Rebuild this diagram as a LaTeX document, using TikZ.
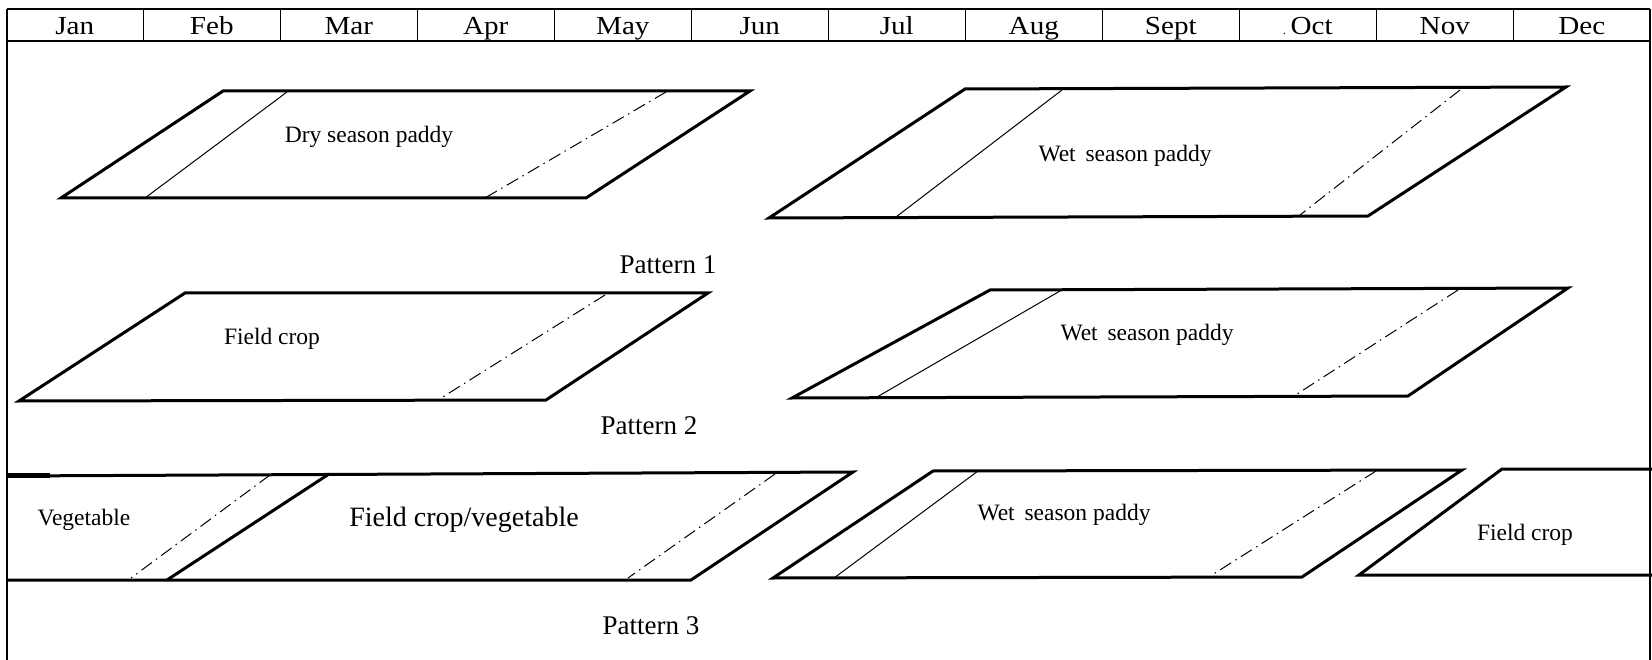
\documentclass[tikz,border=0pt]{standalone}
\usepackage{fontspec}
\setmainfont{Liberation Serif}
\newfontfamily\widefont[FakeStretch=1.12]{Liberation Serif}
\begin{document}
\begin{tikzpicture}[x=1pt,y=-1pt,
  field/.style={line width=3pt, line join=miter},
  divline/.style={line width=1pt},
  thickdiv/.style={line width=3pt},
  ddline/.style={line width=1pt, dash pattern=on 13pt off 5pt on 1.5pt off 5pt},
  frameline/.style={line width=1.3pt},
  month/.style={font=\widefont\fontsize{26}{28}\selectfont, inner sep=0pt, anchor=base},
  crop/.style={font=\fontsize{23.5}{25}\selectfont, inner sep=0pt},
  pattern/.style={font=\fontsize{27}{29}\selectfont, inner sep=0pt}]
\useasboundingbox (0,0) rectangle (1652,660);
% header
\draw[frameline] (7,9) -- (1650,9);
\draw[frameline] (7,41) -- (1650,41);
\draw[frameline] (7,9) -- (7,660);
\draw[frameline] (1650,9) -- (1650,660);
\foreach \k in {1,...,11} {
  \draw[divline] (6.3+137*\k,9) -- (6.3+137*\k,41);
}
\foreach \m [count=\i from 0] in {Jan,Feb,Mar,Apr,May,Jun,Jul,Aug,Sept,{{\fontsize{12}{12}\selectfont.}\,Oct},Nov,Dec} {
  \node[month] (m\i) at (6.3+137*\i+68.5,34.5) {\m};
}
% Row 1 left
\draw[field] (223,91) -- (750,91) -- (586,198) -- (61,198) -- cycle;
\draw[divline] (287,92) -- (145,198);
\draw[ddline] (666,92) -- (485,198);
\node[crop] (dry) at (369,137) {Dry season paddy};
% Row 1 right
\draw[field] (965,89) -- (1566,87) -- (1368,216) -- (769,218) -- cycle;
\draw[divline] (1062,90) -- (896,217);
\draw[ddline] (1460,90) -- (1300,215);
\node[crop] (wet1) at (1125,156) {Wet\, season paddy};
\node[pattern] (p1) at (668,265) {Pattern 1};
% Row 2 left
\draw[field] (185,293) -- (708,293) -- (546,400) -- (19,401) -- cycle;
\draw[ddline] (605,295) -- (438,400);
\node[crop] (fc1) at (272,339) {Field crop};
% Row 2 right
\draw[field] (990,290) -- (1568,288) -- (1408,396) -- (792,398) -- cycle;
\draw[divline] (1060,291) -- (877,397);
\draw[ddline] (1458,290) -- (1294,396);
\node[crop] (wet2) at (1147,335) {Wet\, season paddy};
\node[pattern] (p2) at (649,426) {Pattern 2};
% Row 3 left
\draw[field] (7,476) -- (853,472) -- (691,580) -- (7,580);
\draw[line width=5pt] (7,475) -- (50,475);
\draw[thickdiv] (329,474) -- (167,580);
\draw[ddline] (270,475) -- (131,578);
\draw[ddline] (775,474) -- (628,578);
\node[crop] (veg) at (84,520) {Vegetable};
\node[font=\fontsize{28}{30}\selectfont, inner sep=0pt] (fcv) at (464,520) {Field crop/vegetable};
% Row 3 middle
\draw[field] (933,471) -- (1462,470) -- (1302,577) -- (773,578) -- cycle;
\draw[divline] (978,471) -- (834,578);
\draw[ddline] (1376,471) -- (1212,575);
\node[crop] (wet3) at (1064,515) {Wet\, season paddy};
% Row 3 right
\draw[field] (1652,469) -- (1502,469) -- (1359,575) -- (1652,575);
\node[crop] (fc2) at (1525,535) {Field crop};
\node[pattern] (p3) at (651,626) {Pattern 3};
\end{tikzpicture}
\end{document}
